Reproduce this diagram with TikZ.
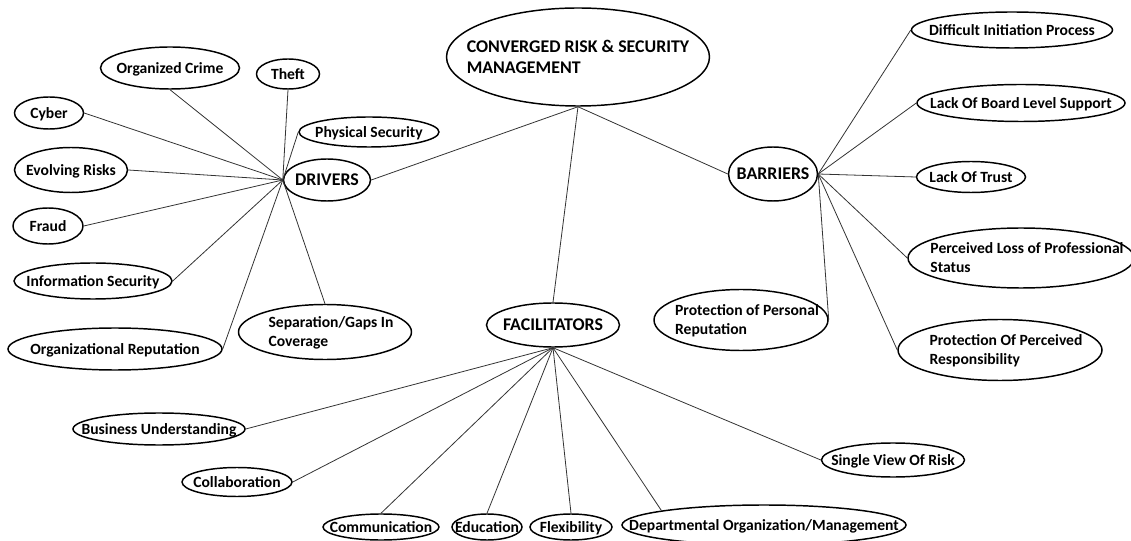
\documentclass[tikz,border=0pt]{standalone}
\usepackage{fontspec}
\setmainfont{Carlito}
\usetikzlibrary{shapes.geometric}
\newcommand\tx[1]{\smash{\makebox[0pt]{\raisebox{-0.35em}{\begin{tabular}{@{}l@{}}#1\end{tabular}}}}}
\newcommand\txs[1]{\smash{\makebox[0pt]{\kern9pt\raisebox{-0.35em}{\begin{tabular}{@{}l@{}}#1\end{tabular}}}}}
\tikzset{
  el/.style={ellipse, draw, line width=1.1pt, inner sep=0pt,
    font=\bfseries\fontsize{11.7}{13.8}\selectfont},
  hub/.style={el, font=\bfseries\fontsize{13.4}{16}\selectfont},
  sz/.style 2 args={minimum width=#1*0.75pt, minimum height=#2*0.75pt},
  link/.style={draw=black!80, line width=0.6pt}
}
\begin{document}
\begin{tikzpicture}[x=0.75pt, y=-0.75pt]
\useasboundingbox (0,0) rectangle (1131,541);
\clip (0,0) rectangle (1131,541);
% hubs
\node[hub, sz={263}{98}] (conv) at (578,57) {\tx{CONVERGED RISK \& SECURITY\\MANAGEMENT}};
\node[hub, sz={87}{42}] (drivers) at (327,180) {\tx{DRIVERS}};
\node[hub, sz={89}{54}] (barriers) at (773,174) {\tx{BARRIERS}};
\node[hub, sz={133}{44}] (facil) at (553,325) {\tx{FACILITATORS}};
% drivers
\node[el, sz={139}{42}] (oc) at (170,68) {\tx{Organized Crime}};
\node[el, sz={63}{30}] (theft) at (288,74) {\tx{Theft}};
\node[el, sz={69}{32}] (cyber) at (49,113) {\tx{Cyber}};
\node[el, sz={140}{30}] (phys) at (369,132) {\tx{Physical Security}};
\node[el, sz={113}{45}] (evol) at (71,170) {\tx{Evolving Risks}};
\node[el, sz={70}{36}] (fraud) at (48,226) {\tx{Fraud}};
\node[el, sz={158}{36}] (info) at (93,281) {\tx{Information Security}};
\node[el, sz={173}{55}] (sep) at (325,332) {\txs{Separation/Gaps In\\Coverage}};
\node[el, sz={214}{42}] (orgrep) at (115,349) {\tx{Organizational Reputation}};
% barriers
\node[el, sz={201}{36}] (diff) at (1012,30) {\tx{Difficult Initiation Process}};
\node[el, sz={208}{37}] (board) at (1021,103) {\tx{Lack Of Board Level Support}};
\node[el, sz={109}{31}] (trust) at (971,177) {\tx{Lack Of Trust}};
\node[el, sz={226}{60}] (loss) at (1021,258) {\txs{Perceived Loss of Professional\\Status}};
\node[el, sz={174}{61}] (pers) at (741,320) {\txs{Protection of Personal\\Reputation}};
\node[el, sz={204}{61}] (resp) at (1000,350) {\txs{Protection Of Perceived\\Responsibility}};
% facilitators
\node[el, sz={172}{32}] (bus) at (159,429) {\tx{Business Understanding}};
\node[el, sz={110}{29}] (collab) at (237,482) {\tx{Collaboration}};
\node[el, sz={116}{26}] (comm) at (381,527) {\tx{Communication}};
\node[el, sz={70}{26}] (edu) at (487,527) {\tx{Education}};
\node[el, sz={82}{26}] (flex) at (571,527) {\tx{Flexibility}};
\node[el, sz={284}{40}] (dept) at (764,525) {\tx{Departmental Organization/Management}};
\node[el, sz={143}{34}] (single) at (893,460) {\tx{Single View Of Risk}};
% main links
\draw[link] (conv.south) -- (drivers.east);
\draw[link] (conv.south) -- (facil.north);
\draw[link] (conv.south) -- (barriers.west);
% drivers links
\foreach \n/\a in {oc/south, theft/south, cyber/east, phys/west, evol/east, fraud/east, info/east, sep/north, orgrep/east}
  \draw[link] (drivers.west) -- (\n.\a);
% barriers links
\foreach \n/\a in {diff/west, board/west, trust/west, loss/west, pers/east, resp/west}
  \draw[link] (barriers.east) -- (\n.\a);
% facilitators links
\foreach \n/\a in {bus/east, collab/east, comm/north, edu/north, flex/north, dept/172, single/west}
  \draw[link] (facil.south) -- (\n.\a);
\end{tikzpicture}
\end{document}
